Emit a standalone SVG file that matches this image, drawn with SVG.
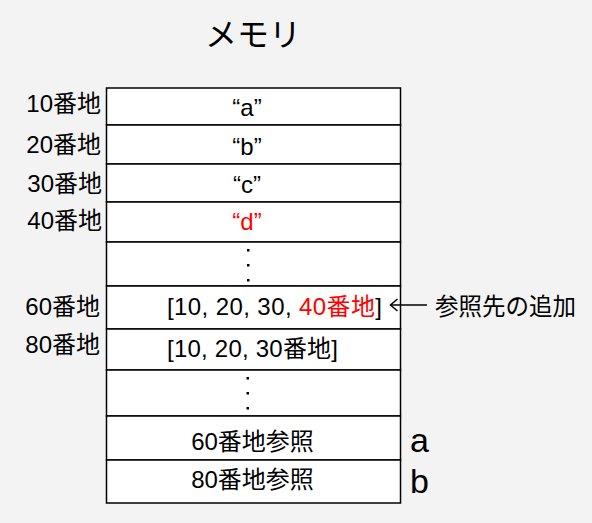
<svg xmlns="http://www.w3.org/2000/svg" width="592" height="523" viewBox="0 0 592 523">
<style>
text{font-family:"Liberation Sans","Noto Sans CJK JP",sans-serif;font-size:24px;fill:#000}
.lbl{text-anchor:end}
.mid{text-anchor:middle}
.red{fill:#ff0000}
.cell{fill:#fff;stroke:#000;stroke-width:1.5}
.dot{fill:#000}
</style>
<rect width="592" height="523" fill="#f3f3f3"/>
<text x="253" y="46" class="mid" style="font-size:32px">メモリ</text>
<g id="memory">
<g id="row10"><rect class="cell" x="106.5" y="88" width="294" height="37"/><text x="247" y="116" class="mid">“a”</text></g>
<g id="row20"><rect class="cell" x="106.5" y="125" width="294" height="39"/><text x="247" y="155" class="mid">“b”</text></g>
<g id="row30"><rect class="cell" x="106.5" y="164" width="294" height="38"/><text x="247" y="193" class="mid">“c”</text></g>
<g id="row40"><rect class="cell" x="106.5" y="202" width="294" height="40"/><text x="247" y="230" class="mid red">“d”</text></g>
<g id="rowdots1"><rect class="cell" x="106.5" y="242" width="294" height="44"/><rect class="dot" x="247" y="249" width="2.5" height="2.5"/><rect class="dot" x="247" y="264" width="2.5" height="2.5"/><rect class="dot" x="247" y="279" width="2.5" height="2.5"/></g>
<g id="row60"><rect class="cell" x="106.5" y="286" width="294" height="43"/><text x="167" y="315" textLength="215" lengthAdjust="spacing">[10, 20, 30, <tspan class="red">40番地</tspan>]</text></g>
<g id="row80"><rect class="cell" x="106.5" y="329" width="294" height="41"/><text x="167" y="357" textLength="171" lengthAdjust="spacing">[10, 20, 30番地]</text></g>
<g id="rowdots2"><rect class="cell" x="106.5" y="370" width="294" height="46"/><rect class="dot" x="246.5" y="377" width="2.5" height="2.5"/><rect class="dot" x="246.5" y="392" width="2.5" height="2.5"/><rect class="dot" x="246.5" y="407" width="2.5" height="2.5"/></g>
<g id="rowa"><rect class="cell" x="106.5" y="416" width="294" height="44"/><text x="252.5" y="450" class="mid">60番地参照</text></g>
<g id="rowb"><rect class="cell" x="106.5" y="460" width="294" height="43"/><text x="252.5" y="488" class="mid">80番地参照</text></g>
</g>
<g id="labels">
<text x="101" y="112" class="lbl">10番地</text>
<text x="101" y="153" class="lbl">20番地</text>
<text x="102" y="192" class="lbl">30番地</text>
<text x="102" y="229" class="lbl">40番地</text>
<text x="100" y="315" class="lbl">60番地</text>
<text x="100" y="353" class="lbl">80番地</text>
<text x="410" y="452" style="font-size:34px">a</text>
<text x="410" y="493" style="font-size:34px">b</text>
</g>
<g id="connectors">
<line x1="427" y1="305" x2="391" y2="305" stroke="#000" stroke-width="1.5"/>
<polyline points="397.5,299 390.5,305 397.5,311" fill="none" stroke="#000" stroke-width="1.5"/>
</g>
<g id="note"><text x="435" y="315" style="font-size:23.5px">参照先の追加</text></g>
</svg>
